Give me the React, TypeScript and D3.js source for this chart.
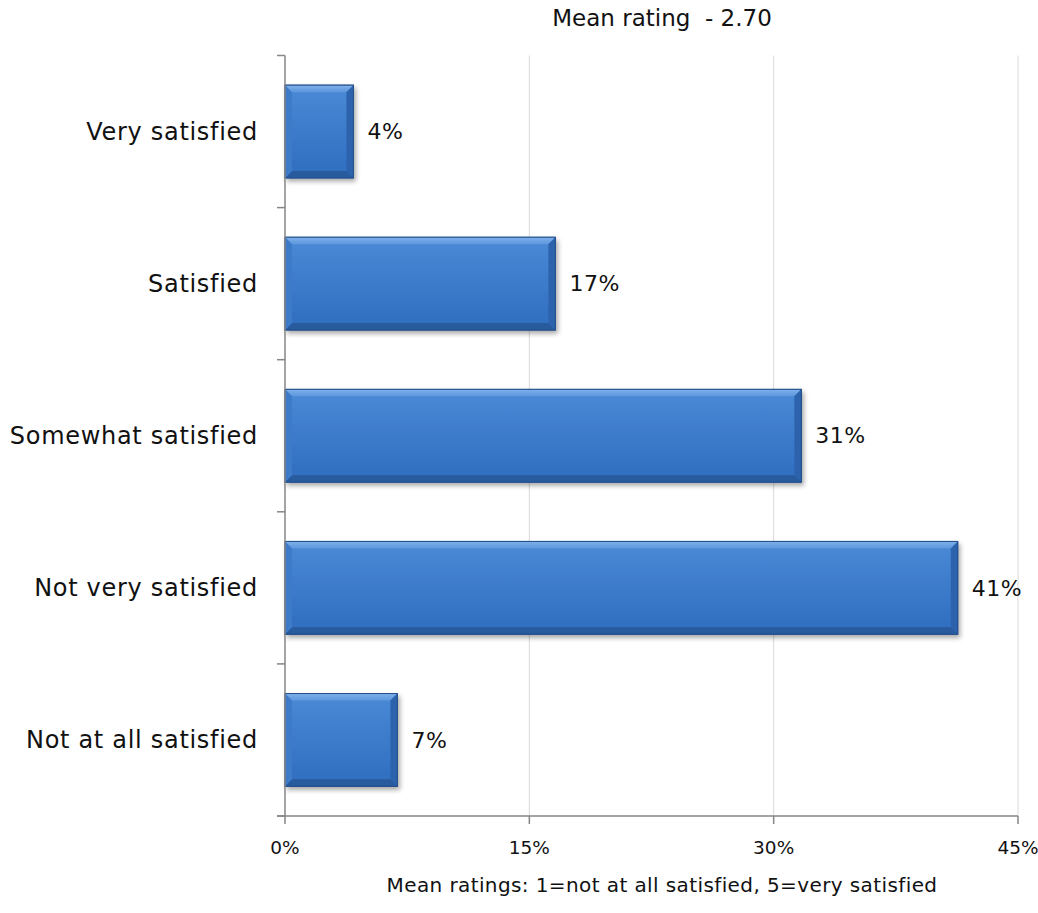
import React from "react";
import * as d3 from "d3";

const categories = ["Very satisfied", "Satisfied", "Somewhat satisfied", "Not very satisfied", "Not at all satisfied"];
const values = [4.2, 16.6, 31.7, 41.3, 6.9];
const valueLabels = ["4%", "17%", "31%", "41%", "7%"];
const xTicks = [0, 15, 30, 45];
const title = "Mean rating  - 2.70";
const footnote = "Mean ratings: 1=not at all satisfied, 5=very satisfied";

const W = 1038, H = 913;
const left = 285, right = 1018, top = 55.5, bottom = 816;
const FONT = "'DejaVu Sans', sans-serif";

export default function App() {
  const x = d3.scaleLinear().domain([0, 45]).range([left, right]);
  const y = d3.scaleBand<string>().domain(categories).range([top, bottom]).paddingInner(0.39).paddingOuter(0.195);
  const bandStep = (bottom - top) / categories.length;
  const bv = 7;
  return (
    <svg width={W} height={H} style={{ position: "absolute", left: 0, top: 0, background: "#fff" }}>
      <defs>
        <linearGradient id="face" x1="0" y1="0" x2="0" y2="1">
          <stop offset="0" stopColor="#4a8ad6" />
          <stop offset="1" stopColor="#2f6cbf" />
        </linearGradient>
        <linearGradient id="topb" x1="0" y1="0" x2="0" y2="1">
          <stop offset="0" stopColor="#7fb0ea" />
          <stop offset="1" stopColor="#5d97dd" />
        </linearGradient>
        <filter id="sh" x="-10%" y="-10%" width="130%" height="140%">
          <feGaussianBlur in="SourceAlpha" stdDeviation="2.5" />
          <feOffset dx="2" dy="3" result="b" />
          <feComponentTransfer><feFuncA type="linear" slope="0.35" /></feComponentTransfer>
          <feMerge><feMergeNode /><feMergeNode in="SourceGraphic" /></feMerge>
        </filter>
      </defs>
      {xTicks.slice(1).map((t) => (
        <line key={t} x1={x(t)} x2={x(t)} y1={top} y2={bottom} stroke="#d9d9d9" strokeWidth={1} />
      ))}
      {categories.map((c, i) => {
        const x0 = x(0), x1 = x(values[i]);
        const y0 = y(c)!, h = y.bandwidth(), y1 = y0 + h;
        return (
          <g key={c}>
            <g filter="url(#sh)">
              <rect x={x0} y={y0} width={x1 - x0} height={h} fill="url(#face)" stroke="#24508c" strokeWidth={1} />
            </g>
            <polygon points={`${x0},${y0} ${x1},${y0} ${x1 - bv},${y0 + bv} ${x0 + bv},${y0 + bv}`} fill="url(#topb)" />
            <polygon points={`${x1},${y0} ${x1},${y1} ${x1 - bv},${y1 - bv} ${x1 - bv},${y0 + bv}`} fill="#2d63ad" />
            <polygon points={`${x0},${y1} ${x1},${y1} ${x1 - bv},${y1 - bv} ${x0 + bv},${y1 - bv}`} fill="#285a9e" />
            <polygon points={`${x0},${y0} ${x0 + bv},${y0 + bv} ${x0 + bv},${y1 - bv} ${x0},${y1}`} fill="#3d7bc8" />
            <rect x={x0} y={y0} width={x1 - x0} height={h} fill="none" stroke="#24508c" strokeWidth={1} />
            <text x={x1 + 14} y={y0 + h / 2} dy="0.35em" fontFamily={FONT} fontSize={22} letterSpacing={0.5} fill="#111">{valueLabels[i]}</text>
            <text x={258} y={y0 + h / 2} dy="0.35em" textAnchor="end" fontFamily={FONT} fontSize={24} letterSpacing={0.7} fill="#111">{c}</text>
          </g>
        );
      })}
      <line x1={left} x2={left} y1={top} y2={bottom} stroke="#868686" strokeWidth={1.5} />
      {d3.range(categories.length + 1).map((i) => (
        <line key={i} x1={277} x2={left} y1={top + i * bandStep} y2={top + i * bandStep} stroke="#868686" strokeWidth={1.5} />
      ))}
      <line x1={277} x2={right} y1={bottom} y2={bottom} stroke="#868686" strokeWidth={1.5} />
      {xTicks.map((t) => (
        <g key={t}>
          <line x1={x(t)} x2={x(t)} y1={bottom} y2={bottom + 8} stroke="#868686" strokeWidth={1.5} />
          <text x={x(t)} y={848} dy="0.35em" textAnchor="middle" fontFamily={FONT} fontSize={18.5} fill="#111">{t}%</text>
        </g>
      ))}
      <text x={662} y={18} dy="0.35em" textAnchor="middle" fontFamily={FONT} fontSize={23} fill="#111" style={{ whiteSpace: "pre" }}>{title}</text>
      <text x={662} y={885} dy="0.35em" textAnchor="middle" fontFamily={FONT} fontSize={20} letterSpacing={0.4} fill="#111">{footnote}</text>
    </svg>
  );
}
